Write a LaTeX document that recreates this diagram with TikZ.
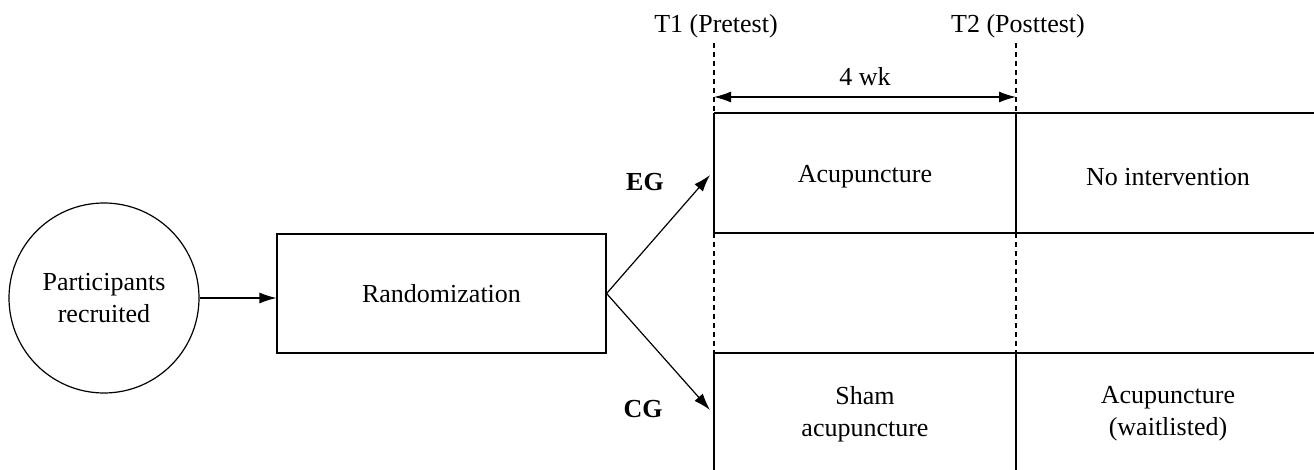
\documentclass[tikz,border=0pt]{standalone}
\usepackage{fontspec}
\setmainfont{Liberation Serif}
\usetikzlibrary{arrows.meta}

\tikzset{
  txt/.style={align=center, font=\fontsize{13}{16}\selectfont},
  lbl/.style={font=\fontsize{13}{16}\selectfont\bfseries},
  tip/.style={line width=0.6pt},
  conn/.style={line width=0.6pt, -{Latex[length=8.5pt,width=5.5pt]}},
  grid/.style={line width=0.7pt},
  split/.style={line width=1.1pt},
  guide/.style={line width=0.55pt, dash pattern=on 2.5pt off 2pt}
}

\begin{document}
\begin{tikzpicture}[x=0.5pt,y=0.5pt,yscale=-1]
\useasboundingbox (0,0) rectangle (1314,470);

%Shape: Circle
\node [circle, draw, line width=0.6pt, minimum size=95pt, inner sep=0pt, txt] (part) at (104,298) {Participants\\recruited};
%Shape: Rectangle
\node [draw, line width=0.6pt, minimum width=164.5pt, minimum height=59.5pt, inner sep=0pt, txt] (rand) at (441.5,293.5) {Randomization};

%Table corners
\coordinate (t1top) at (714,43);
\coordinate (t2top) at (1016,43);
\coordinate (a1) at (714,113);
\coordinate (a2) at (1016,113);
\coordinate (a3) at (1314,113);
\coordinate (b1) at (714,233);
\coordinate (b2) at (1016,233);
\coordinate (b3) at (1314,233);
\coordinate (c1) at (714,353);
\coordinate (c2) at (1016,353);
\coordinate (c3) at (1314,353);
\coordinate (d1) at (714,470);
\coordinate (d2) at (1016,470);
\coordinate (eg) at (710,175);
\coordinate (cg) at (710,410);

%Time points
\node [txt] (t1) at (716,26) {T1 (Pretest)};
\node [txt] (t2) at (1018,26) {T2 (Posttest)};
\draw [guide] (t1top) -- (a1);
\draw [guide] (t2top) -- (a2);
\draw [guide] (b1) -- (c1);
\draw [guide] (b2) -- (c2);
%Dimension
\draw [line width=0.6pt, {Latex[length=8.5pt,width=5.5pt]}-{Latex[length=8.5pt,width=5.5pt]}] (714,97) coordinate (w1) -- (1016,97) coordinate (w2);
\node [txt] (wk) at (865,77) {4 wk};

%Rows
\draw [grid] (a1) -- (a3);
\draw [grid] (b1) -- (b3);
\draw [grid] (c1) -- (c3);
\draw [grid] (a1) -- (b1);
\draw [grid] (c1) -- (d1);
\draw [split] (a2) -- (b2);
\draw [split] (c2) -- (d2);

%Cells
\node [txt] (acu) at (865,177) {Acupuncture};
\node [txt] (noint) at (1168,177) {No intervention};
\node [txt] (sham) at (865,414) {Sham\\acupuncture};
\node [txt] (wait) at (1168,414) {Acupuncture\\(waitlisted)};

%Connectors
\draw [conn] (part.east) -- (part.east -| rand.west);
\draw [conn] (rand.east) -- (eg);
\draw [conn] (rand.east) -- (cg);
\node [lbl] (eglbl) at (645,182) {EG};
\node [lbl] (cglbl) at (643,409) {CG};
\end{tikzpicture}
\end{document}
